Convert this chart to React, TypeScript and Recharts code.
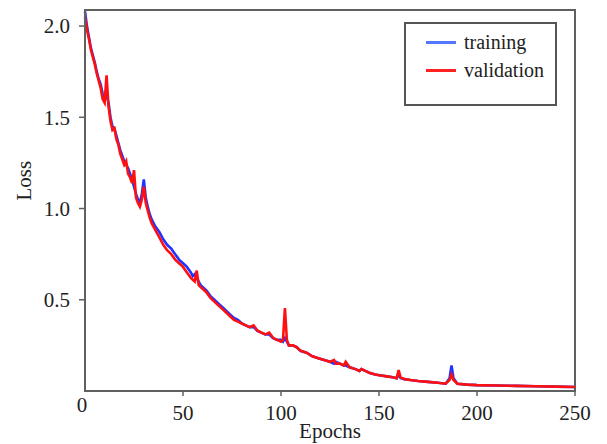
import {
  LineChart,
  Line,
  XAxis,
  YAxis,
  ReferenceArea,
} from "recharts";

const epochs = [
  0, 1, 2, 3, 4, 5, 6, 7, 8, 9, 10, 11, 12, 13, 14, 15, 16, 17, 18, 19, 20, 21, 22, 23, 24, 25, 26, 27, 28, 29,
  30, 31, 32, 33, 34, 36, 38, 40, 42, 44, 46, 48, 50, 52, 54, 55, 56, 57, 58, 59, 60, 62, 64, 66, 68, 70, 72, 74,
  76, 78, 80, 82, 84, 86, 88, 90, 92, 94, 96, 98, 100, 101, 102, 103, 104, 106, 108, 110, 113, 116, 119, 122, 125,
  127, 128, 130, 132, 133, 135, 138, 140, 141, 143, 145, 148, 151, 154, 157, 159, 160, 161, 163, 166, 170, 175, 180,
  184, 186, 187, 188, 190, 195, 200, 210, 220, 230, 240, 250,
];

const training = [
  2.08, 2.0, 1.94, 1.88, 1.84, 1.8, 1.75, 1.71, 1.68, 1.63, 1.6, 1.62, 1.58, 1.5, 1.45, 1.44, 1.4, 1.36, 1.32, 1.29,
  1.26, 1.24, 1.22, 1.19, 1.16, 1.12, 1.08, 1.05, 1.03, 1.08, 1.16, 1.06, 1.01, 0.97, 0.94, 0.9, 0.87, 0.83, 0.8,
  0.78, 0.75, 0.72, 0.7, 0.68, 0.65, 0.63, 0.64, 0.62, 0.6, 0.58, 0.57, 0.55, 0.52, 0.5, 0.48, 0.46, 0.44, 0.42,
  0.4, 0.39, 0.37, 0.36, 0.35, 0.35, 0.33, 0.32, 0.31, 0.31, 0.29, 0.28, 0.28, 0.27, 0.29, 0.27, 0.25, 0.25, 0.24,
  0.22, 0.21, 0.19, 0.18, 0.17, 0.16, 0.15, 0.16, 0.15, 0.14, 0.14, 0.13, 0.12, 0.11, 0.12, 0.11, 0.1, 0.09, 0.085,
  0.08, 0.075, 0.07, 0.09, 0.07, 0.065, 0.06, 0.055, 0.05, 0.045, 0.04, 0.07, 0.14, 0.07, 0.04, 0.035, 0.032, 0.03,
  0.028, 0.026, 0.024, 0.022,
];

const validation = [
  2.05, 1.98, 1.93, 1.87, 1.83, 1.79, 1.74, 1.7, 1.66, 1.6, 1.58, 1.73, 1.56, 1.48, 1.43, 1.44, 1.38, 1.35, 1.3,
  1.27, 1.24, 1.26, 1.19, 1.17, 1.14, 1.21, 1.06, 1.03, 1.01, 1.05, 1.12, 1.03, 0.99, 0.95, 0.92, 0.88, 0.84, 0.8,
  0.77, 0.75, 0.72, 0.7, 0.68, 0.65, 0.62, 0.61, 0.6, 0.66, 0.58, 0.57, 0.56, 0.54, 0.51, 0.49, 0.47, 0.45, 0.43,
  0.41, 0.39, 0.38, 0.37, 0.36, 0.35, 0.36, 0.33, 0.32, 0.31, 0.32, 0.29, 0.28, 0.27, 0.28, 0.455, 0.28, 0.25, 0.25,
  0.24, 0.22, 0.21, 0.19, 0.18, 0.17, 0.16, 0.17, 0.15, 0.15, 0.14, 0.16, 0.13, 0.12, 0.11, 0.12, 0.11, 0.1, 0.09,
  0.085, 0.08, 0.075, 0.07, 0.115, 0.075, 0.065, 0.06, 0.055, 0.05, 0.045, 0.04, 0.06, 0.09, 0.06, 0.04, 0.035,
  0.032, 0.03, 0.028, 0.026, 0.024, 0.022,
];

const xTicks = [0, 50, 100, 150, 200, 250];
const yTicks = [0.5, 1.0, 1.5, 2.0];
const seriesNames = ["training", "validation"];
const seriesColors = ["#2233ff", "#ff1010"];
const legendColors = ["#5577ff", "#ff2222"];

const data = epochs.map((e, i) => ({ epoch: e, training: training[i], validation: validation[i] }));

const FONT = "'Liberation Serif', 'DejaVu Serif', serif";
const AXIS = "#606060";

function XTick(props: any) {
  const { x, y, payload } = props;
  const v = payload.value;
  if (v === 0) {
    return (
      <text x={x - 3} y={y + 21} textAnchor="middle" fontFamily={FONT} fontSize={21} fill="#222">
        0
      </text>
    );
  }
  return (
    <g>
      <line x1={x} y1={y} x2={x} y2={y + 5} stroke={AXIS} strokeWidth={1.5} />
      <text x={x} y={y + 29} textAnchor="middle" fontFamily={FONT} fontSize={21} fill="#222">
        {v}
      </text>
    </g>
  );
}

function YTick(props: any) {
  const { x, y, payload } = props;
  return (
    <g>
      <line x1={x - 6} y1={y} x2={x} y2={y} stroke={AXIS} strokeWidth={1.5} />
      <text x={x - 15} y={y} dy="0.35em" textAnchor="end" fontFamily={FONT} fontSize={21} fill="#222">
        {payload.value.toFixed(1)}
      </text>
    </g>
  );
}

function LegendBox() {
  return (
    <div
      style={{
        position: "absolute",
        left: 404,
        top: 22,
        width: 149,
        height: 76,
        border: "2px solid #555",
        background: "#fff",
        fontFamily: FONT,
        fontSize: 20,
        color: "#222",
        paddingTop: 4,
      }}
    >
      {seriesNames.map((name, i) => (
        <div key={name} style={{ display: "flex", alignItems: "center", height: 28 }}>
          <span style={{ display: "inline-block", width: 30, height: 3, background: legendColors[i], marginLeft: 20, marginRight: 8 }} />
          <span>{name}</span>
        </div>
      ))}
    </div>
  );
}

export default function App() {
  return (
    <div style={{ position: "relative", width: 607, height: 444, background: "#fff" }}>
      <style>{"body{margin:0}"}</style>
      <LineChart width={607} height={444} data={data} margin={{ top: 10, right: 32, bottom: 0, left: 0 }}>
        <XAxis
          dataKey="epoch"
          type="number"
          domain={[0, 250]}
          ticks={xTicks}
          height={53}
          tickSize={0}
          tickMargin={0}
          tickLine={false}
          axisLine={{ stroke: AXIS, strokeWidth: 2 }}
          tick={<XTick />}
          label={{ value: "Epochs", position: "insideBottom", offset: 6, fontFamily: FONT, fontSize: 21, fill: "#222" }}
        />
        <YAxis
          type="number"
          domain={[0, 2.088]}
          ticks={yTicks}
          width={85}
          tickSize={0}
          tickMargin={0}
          tickLine={false}
          axisLine={{ stroke: AXIS, strokeWidth: 2 }}
          tick={<YTick />}
          label={{ value: "Loss", angle: -90, position: "insideLeft", offset: 24, fontFamily: FONT, fontSize: 21, fill: "#222" }}
        />
        <ReferenceArea x1={0} x2={250} y1={0} y2={2.088} fill="none" stroke={AXIS} strokeWidth={2} ifOverflow="extendDomain" />
        {seriesNames.map((name, i) => (
          <Line
            key={name}
            type="linear"
            dataKey={name}
            stroke={seriesColors[i]}
            strokeWidth={2.6}
            dot={false}
            isAnimationActive={false}
          />
        ))}
      </LineChart>
      <LegendBox />
    </div>
  );
}
